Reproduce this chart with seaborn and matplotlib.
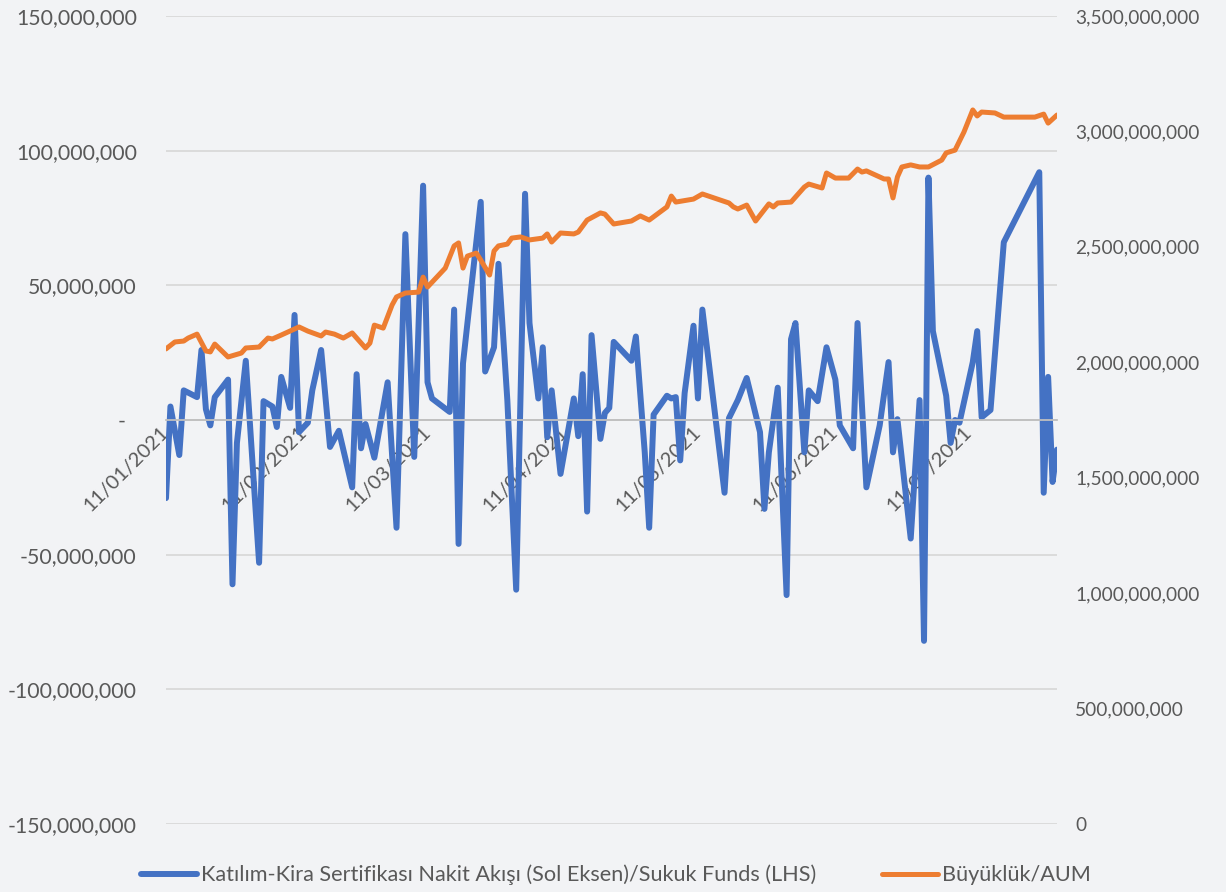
import matplotlib
matplotlib.use("Agg")
import matplotlib.pyplot as plt
import matplotlib.dates as mdates
import matplotlib.ticker as mticker
import seaborn as sns
import pandas as pd

# Katılım-Kira Sertifikası nakit akışı (milyon TL), sol eksen
flow_dates = [
    "2021-01-11", "2021-01-12", "2021-01-14", "2021-01-15", "2021-01-18", "2021-01-19", "2021-01-20", "2021-01-21", "2021-01-22", "2021-01-25",
    "2021-01-26", "2021-01-27", "2021-01-29", "2021-02-01", "2021-02-02", "2021-02-04", "2021-02-05", "2021-02-06", "2021-02-08", "2021-02-09",
    "2021-02-10", "2021-02-12", "2021-02-13", "2021-02-15", "2021-02-17", "2021-02-19", "2021-02-22", "2021-02-23", "2021-02-24", "2021-02-25",
    "2021-02-27", "2021-03-02", "2021-03-04", "2021-03-06", "2021-03-08", "2021-03-10", "2021-03-11", "2021-03-12", "2021-03-16", "2021-03-17",
    "2021-03-18", "2021-03-19", "2021-03-23", "2021-03-24", "2021-03-26", "2021-03-27", "2021-03-29", "2021-03-31", "2021-04-02", "2021-04-03",
    "2021-04-05", "2021-04-06", "2021-04-07", "2021-04-08", "2021-04-10", "2021-04-13", "2021-04-14", "2021-04-15", "2021-04-16", "2021-04-17",
    "2021-04-19", "2021-04-20", "2021-04-21", "2021-04-22", "2021-04-26", "2021-04-27", "2021-04-29", "2021-04-30", "2021-05-01", "2021-05-04",
    "2021-05-05", "2021-05-06", "2021-05-07", "2021-05-08", "2021-05-10", "2021-05-11", "2021-05-12", "2021-05-17", "2021-05-18", "2021-05-20",
    "2021-05-22", "2021-05-25", "2021-05-26", "2021-05-27", "2021-05-29", "2021-05-31", "2021-06-01", "2021-06-02", "2021-06-04", "2021-06-05",
    "2021-06-07", "2021-06-09", "2021-06-11", "2021-06-12", "2021-06-15", "2021-06-16", "2021-06-18", "2021-06-21", "2021-06-23", "2021-06-24",
    "2021-06-25", "2021-06-28", "2021-06-30", "2021-07-01", "2021-07-02", "2021-07-03", "2021-07-06", "2021-07-07", "2021-07-08", "2021-07-09",
    "2021-07-12", "2021-07-13", "2021-07-14", "2021-07-16", "2021-07-19", "2021-07-27", "2021-07-28", "2021-07-29", "2021-07-30", "2021-07-31",
]
flow_values = [
    -29, 5, -13, 11, 8.5, 26, 4, -2, 8.5, 15,
    -61, -8.5, 22, -53, 7, 5, -2.6, 16, 4.5, 39,
    -4.5, -1, 11, 26, -10, -4, -25, 17, -10.5, -1.5,
    -14, 14, -40, 69, -13.7, 87, 14, 8, 3, 41,
    -46, 21, 81, 18, 27, 58, 7.4, -63, 84, 36,
    8, 27, -6.4, 11, -20, 8, -6, 17, -34, 31.5,
    -7, 2.6, 4.5, 29, 22, 31, -12, -40, 2, 9,
    8, 8.5, -15, 10, 35, 8, 41, -27, 0.7, 7.4,
    15.6, -4.5, -33, -12, 12, -65, 30, 36, -12, 11,
    7, 27, 15, -2, -10.5, 36, -25, -2, 21.5, -12,
    0.3, -44, 7.4, -82, 90, 33, 9, -8.5, 0, -1,
    21.5, 33, 1, 3.7, 66, 92, -27, 16, -23, -11,
]

# Büyüklük / AUM (milyar TL), sağ eksen
aum_dates = [
    "2021-01-11", "2021-01-13", "2021-01-15", "2021-01-16", "2021-01-18", "2021-01-20", "2021-01-21", "2021-01-22", "2021-01-25", "2021-01-28",
    "2021-01-29", "2021-02-01", "2021-02-03", "2021-02-04", "2021-02-06", "2021-02-10", "2021-02-12", "2021-02-15", "2021-02-16", "2021-02-18",
    "2021-02-20", "2021-02-22", "2021-02-25", "2021-02-26", "2021-02-27", "2021-03-01", "2021-03-03", "2021-03-04", "2021-03-06", "2021-03-09",
    "2021-03-10", "2021-03-11", "2021-03-15", "2021-03-17", "2021-03-18", "2021-03-19", "2021-03-20", "2021-03-22", "2021-03-23", "2021-03-25",
    "2021-03-26", "2021-03-27", "2021-03-29", "2021-03-30", "2021-04-01", "2021-04-03", "2021-04-06", "2021-04-07", "2021-04-08", "2021-04-10",
    "2021-04-13", "2021-04-14", "2021-04-16", "2021-04-19", "2021-04-20", "2021-04-22", "2021-04-26", "2021-04-28", "2021-04-30", "2021-05-04",
    "2021-05-05", "2021-05-06", "2021-05-10", "2021-05-12", "2021-05-18", "2021-05-19", "2021-05-20", "2021-05-22", "2021-05-24", "2021-05-27",
    "2021-05-28", "2021-05-29", "2021-06-01", "2021-06-04", "2021-06-05", "2021-06-08", "2021-06-09", "2021-06-11", "2021-06-14", "2021-06-16",
    "2021-06-17", "2021-06-18", "2021-06-22", "2021-06-23", "2021-06-24", "2021-06-25", "2021-06-26", "2021-06-28", "2021-06-30", "2021-07-02",
    "2021-07-05", "2021-07-06", "2021-07-08", "2021-07-10", "2021-07-12", "2021-07-13", "2021-07-14", "2021-07-17", "2021-07-19", "2021-07-26",
    "2021-07-28", "2021-07-29", "2021-07-31",
]
aum_values = [
    2.058, 2.088, 2.092, 2.105, 2.122, 2.049, 2.045, 2.079, 2.023, 2.040,
    2.062, 2.066, 2.105, 2.101, 2.118, 2.153, 2.135, 2.114, 2.131, 2.122,
    2.105, 2.127, 2.062, 2.083, 2.161, 2.148, 2.248, 2.283, 2.300, 2.304,
    2.369, 2.326, 2.408, 2.504, 2.517, 2.408, 2.460, 2.473, 2.443, 2.378,
    2.482, 2.504, 2.512, 2.538, 2.543, 2.530, 2.538, 2.556, 2.521, 2.560,
    2.556, 2.564, 2.616, 2.647, 2.642, 2.599, 2.612, 2.634, 2.616, 2.673,
    2.720, 2.694, 2.707, 2.729, 2.690, 2.673, 2.664, 2.681, 2.612, 2.686,
    2.673, 2.690, 2.694, 2.759, 2.772, 2.755, 2.820, 2.798, 2.798, 2.837,
    2.824, 2.829, 2.794, 2.794, 2.712, 2.803, 2.846, 2.855, 2.846, 2.846,
    2.876, 2.907, 2.919, 2.997, 3.093, 3.067, 3.084, 3.080, 3.062, 3.062,
    3.075, 3.036, 3.071,
]

flow_label = "Katılım-Kira Sertifikası Nakit Akışı (Sol Eksen)/Sukuk Funds (LHS)"
aum_label = "Büyüklük/AUM"

BG = "#f2f3f5"
TXT = "#595959"

sns.set_theme(style="white")
plt.rcParams["font.family"] = ["Lato", "DejaVu Sans"]
plt.rcParams["axes.unicode_minus"] = False

flow = pd.DataFrame({"tarih": pd.to_datetime(flow_dates),
                     "deger": [v * 1e6 for v in flow_values]})
aum = pd.DataFrame({"tarih": pd.to_datetime(aum_dates),
                    "deger": [v * 1e9 for v in aum_values]})

fig = plt.figure(figsize=(12.26, 8.92), dpi=100, facecolor=BG)
ax = fig.add_axes([166 / 1226, 1 - 824 / 892, (1057 - 166) / 1226, (824 - 16) / 892])
ax.set_facecolor(BG)
ax2 = ax.twinx()
ax2.patch.set_visible(False)

sns.lineplot(data=flow, x="tarih", y="deger", ax=ax, color="#4472C4",
             linewidth=4.3, label=flow_label, legend=False,
             solid_joinstyle="round", solid_capstyle="round")
sns.lineplot(data=aum, x="tarih", y="deger", ax=ax2, color="#ED7D31",
             linewidth=3.6, label=aum_label, legend=False,
             solid_joinstyle="round", solid_capstyle="round")

# eksenler
ax.set_xlim(flow["tarih"].min(), flow["tarih"].max())
ax.set_ylim(-150e6, 150e6)
ax2.set_ylim(0, 3.5e9)
ax.set_xlabel("")
ax.set_ylabel("")
ax2.set_ylabel("")

ax.yaxis.set_major_locator(mticker.MultipleLocator(50e6))
ax2.yaxis.set_major_locator(mticker.MultipleLocator(5e8))


def left_fmt(v, pos):
    if abs(v) < 1:
        return "-  "
    return f"{v:,.0f}"


def right_fmt(v, pos):
    return f"{v:,.0f}"


ax.yaxis.set_major_formatter(mticker.FuncFormatter(left_fmt))
ax2.yaxis.set_major_formatter(mticker.FuncFormatter(right_fmt))

ax.xaxis.set_major_locator(mdates.MonthLocator(bymonthday=11))
ax.xaxis.set_major_formatter(mdates.DateFormatter("%d/%m/%Y"))
ax.xaxis.set_minor_locator(mdates.MonthLocator(bymonth=[1, 3, 5, 7], bymonthday=11))
ax.xaxis.remove_overlapping_locs = False

for sp in ["top", "left", "right"]:
    ax.spines[sp].set_visible(False)
for sp in ax2.spines.values():
    sp.set_visible(False)
ax.spines["bottom"].set_position(("data", 0))
ax.spines["bottom"].set_color("#bfbfbf")
ax.spines["bottom"].set_linewidth(1.3)

ax.yaxis.grid(True, color="#d9d9d9", linewidth=1.3)
ax.xaxis.grid(False)
ax.set_axisbelow(True)

ax.tick_params(axis="y", length=0, pad=21, labelsize=15.3, labelcolor=TXT)
ax2.tick_params(axis="y", length=0, pad=13, labelsize=13.8, labelcolor=TXT)
ax.tick_params(axis="x", which="major", length=0, pad=7, labelsize=14.5, labelcolor=TXT)
ax.tick_params(axis="x", which="minor", length=6, width=1.3, color="#bfbfbf", direction="out")
for lbl in ax.get_xticklabels():
    lbl.set_rotation(45)
    lbl.set_ha("right")
    lbl.set_va("center")
    lbl.set_rotation_mode("anchor")

handles = [ax.get_lines()[0], ax2.get_lines()[0]]
fig.legend(handles, [flow_label, aum_label], loc="center",
           bbox_to_anchor=(616 / 1226, 1 - 875 / 892), ncol=2, frameon=False,
           fontsize=15.6, labelcolor=TXT, handlelength=2.6, handletextpad=0.2,
           columnspacing=3.0)

fig.savefig("out.png", dpi=100, facecolor=BG)
